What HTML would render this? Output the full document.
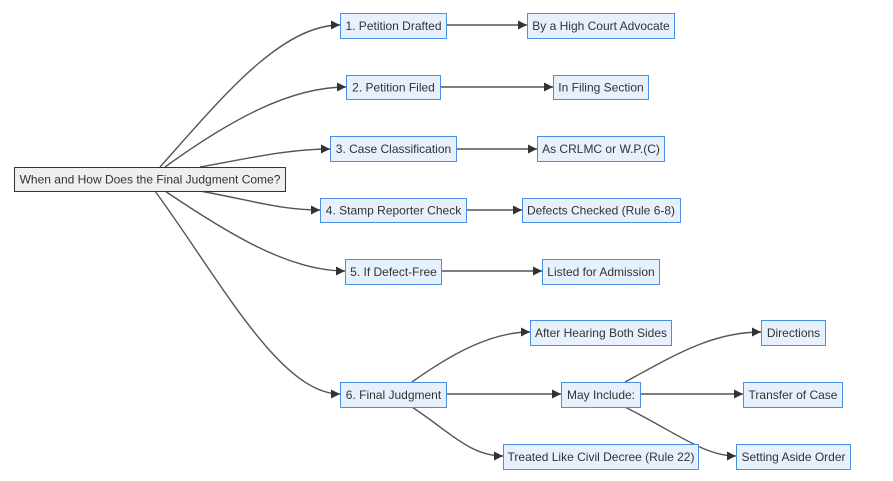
<!DOCTYPE html>
<html><head><meta charset="utf-8"><style>
html,body{margin:0;padding:0;background:#fff;width:893px;height:481px;overflow:hidden}
text{font-family:"Liberation Sans",sans-serif;font-size:12px;fill:#333;dominant-baseline:central;text-anchor:middle}
.n{fill:#e6f1fd;stroke:#4a90e2;stroke-width:1}
.e{fill:none;stroke:#555;stroke-width:1.4}
</style></head><body>
<svg width="893" height="481" xmlns="http://www.w3.org/2000/svg">
<defs><marker id="a" viewBox="0 0 10 10" refX="10" refY="5" markerWidth="9" markerHeight="9" markerUnits="userSpaceOnUse" orient="auto"><path d="M0,0L10,5L0,10z" fill="#333"/></marker></defs>
<g class="e" marker-end="url(#a)">
<path d="M160,167 C220,100 280,25 340,25"/>
<path d="M165,167 C230,120 290,87 346,87"/>
<path d="M200,167 C250,158 290,149 330,149"/>
<path d="M200,191 C250,200 280,210 320,210"/>
<path d="M165,191 C230,235 290,271 345,271"/>
<path d="M155,191 C220,280 280,394 340,394"/>
<path d="M446,25 L527,25"/>
<path d="M440,87 L553,87"/>
<path d="M456,149 L537,149"/>
<path d="M466,210 L522,210"/>
<path d="M441,271 L542,271"/>
<path d="M412,382 C450,355 490,332 530,332"/>
<path d="M446,394 L561,394"/>
<path d="M412,407 C450,432 470,456 503,456"/>
<path d="M625,382 C670,358 710,332 761,332"/>
<path d="M640,394 L743,394"/>
<path d="M625,407 C680,435 705,456 736,456"/>
</g>
<rect x="14.5" y="167.5" width="271" height="24" fill="#efefef" stroke="#333"/>
<text x="150" y="179.5">When and How Does the Final Judgment Come?</text>
<g>
<rect class="n" x="340.5" y="13.5" width="106" height="25"/><text x="393.5" y="26">1. Petition Drafted</text>
<rect class="n" x="527.5" y="13.5" width="147" height="25"/><text x="601" y="26">By a High Court Advocate</text>
<rect class="n" x="346.5" y="75.5" width="94" height="24"/><text x="393.5" y="87.5">2. Petition Filed</text>
<rect class="n" x="553.5" y="75.5" width="95" height="24"/><text x="601" y="87.5">In Filing Section</text>
<rect class="n" x="330.5" y="136.5" width="126" height="25"/><text x="393.5" y="149">3. Case Classification</text>
<rect class="n" x="537.5" y="136.5" width="127" height="25"/><text x="601" y="149">As CRLMC or W.P.(C)</text>
<rect class="n" x="320.5" y="198.5" width="146" height="24"/><text x="393.5" y="210.5">4. Stamp Reporter Check</text>
<rect class="n" x="522.5" y="198.5" width="158" height="24"/><text x="601" y="210.5">Defects Checked (Rule 6-8)</text>
<rect class="n" x="345.5" y="259.5" width="96" height="25"/><text x="393.5" y="272">5. If Defect-Free</text>
<rect class="n" x="542.5" y="259.5" width="117" height="25"/><text x="601" y="272">Listed for Admission</text>
<rect class="n" x="340.5" y="382.5" width="106" height="25"/><text x="393.5" y="395">6. Final Judgment</text>
<rect class="n" x="530.5" y="320.5" width="141" height="25"/><text x="601" y="333">After Hearing Both Sides</text>
<rect class="n" x="561.5" y="382.5" width="79" height="25"/><text x="601" y="395">May Include:</text>
<rect class="n" x="503.5" y="444.5" width="195" height="25"/><text x="601" y="457">Treated Like Civil Decree (Rule 22)</text>
<rect class="n" x="761.5" y="320.5" width="64" height="25"/><text x="793.5" y="333">Directions</text>
<rect class="n" x="743.5" y="382.5" width="99" height="25"/><text x="793" y="395">Transfer of Case</text>
<rect class="n" x="736.5" y="444.5" width="114" height="25"/><text x="793.5" y="457">Setting Aside Order</text>
</g>
</svg>
</body></html>
